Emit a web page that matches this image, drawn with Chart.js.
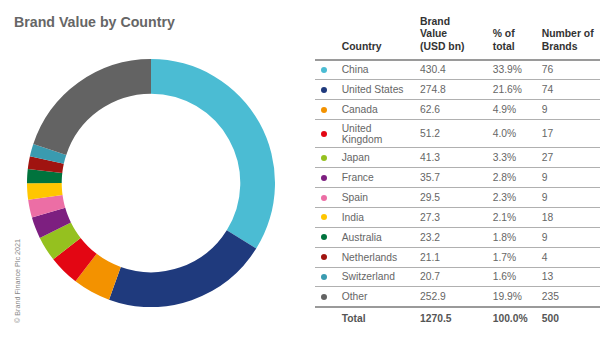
<!DOCTYPE html>
<html><head><meta charset="utf-8">
<script src="https://cdn.jsdelivr.net/npm/chart.js@4.4.0/dist/chart.umd.min.js"></script>
<style>
body{margin:0;width:600px;height:339px;background:#fff;overflow:hidden;font-family:"Liberation Sans",Arial,sans-serif;position:relative}
#title{position:absolute;left:14px;top:15px;font-size:14.2px;line-height:14px;font-weight:bold;color:#666;white-space:nowrap}
#copy{position:absolute;left:14px;top:323px;transform-origin:0 0;transform:rotate(-90deg);font-size:7.2px;line-height:8px;color:#888;white-space:nowrap}
#wrap{position:absolute;left:27px;top:59px;width:248px;height:248px}
.cell{position:absolute;font-size:10.3px;color:#666;display:flex;align-items:center;line-height:11px;white-space:nowrap}
.hdr{position:absolute;bottom:286px;font-size:10.4px;font-weight:bold;color:#333;line-height:12.5px;white-space:nowrap}
.line{position:absolute;left:315px;width:285px}
.dot{position:absolute;width:6px;height:6px;border-radius:50%}
.tot{font-weight:bold;color:#555}
</style>
</head><body>
<div id="title">Brand Value by Country</div>
<div id="copy">© Brand Finance Plc 2021</div>
<div id="wrap"><canvas id="c" width="248" height="248"></canvas></div>
<div id="tbl"></div>
<script>
const countries = ["China","United States","Canada","United\nKingdom","Japan","France","Spain","India","Australia","Netherlands","Switzerland","Other"];
const brandValues = [430.4,274.8,62.6,51.2,41.3,35.7,29.5,27.3,23.2,21.1,20.7,252.9];
const shareLabels = ["33.9%","21.6%","4.9%","4.0%","3.3%","2.8%","2.3%","2.1%","1.8%","1.7%","1.6%","19.9%"];
const brandCounts = [76,74,9,17,27,9,9,18,9,4,13,235];
const colors = ["#4BBCD3","#1F3A7D","#F39200","#E30613","#95C11F","#7D1F80","#EC6EA5","#FFC600","#00733D","#A01410","#3A9BB0","#636363"];
const headers = ["Country","Brand\nValue\n(USD bn)","% of\ntotal","Number of\nBrands"];
const totalRow = ["Total","1270.5","100.0%","500"];

const colX = [341.7, 420, 492.7, 541.7];
const tbl = document.getElementById('tbl');
function add(cls, x, y, h, text){
  const d = document.createElement('div');
  d.className = cls;
  d.style.left = x + 'px';
  if (y !== null) d.style.top = y + 'px';
  if (h !== null) d.style.height = h + 'px';
  d.innerHTML = String(text).split('\n').join('<br>');
  tbl.appendChild(d);
  return d;
}
function line(y, thick){
  const d = document.createElement('div');
  d.className = 'line';
  d.style.top = (y - (thick ? 1 : 0.5)) + 'px';
  d.style.height = (thick ? 2 : 1) + 'px';
  d.style.background = thick ? '#9a9a9a' : '#b0b0b0';
  tbl.appendChild(d);
}
headers.forEach((h,i)=>add('hdr', colX[i], null, null, h));
let y = 60;
line(y, true);
countries.forEach((c,i)=>{
  const h = c.includes('\n') ? 28.4 : 19.85;
  add('cell', colX[0], y, h, c);
  add('cell', colX[1], y, h, brandValues[i].toFixed(1));
  add('cell', colX[2], y, h, shareLabels[i]);
  add('cell', colX[3], y, h, brandCounts[i]);
  const dot = document.createElement('div');
  dot.className = 'dot';
  dot.style.left = '321px';
  dot.style.top = (y + h/2 - 3) + 'px';
  dot.style.background = colors[i];
  tbl.appendChild(dot);
  y += h;
  line(y, i === countries.length - 1);
});
totalRow.forEach((t,i)=>add('cell tot', colX[i], y, 23.5, t));

new Chart(document.getElementById('c'), {
  type: 'doughnut',
  data: { labels: countries, datasets: [{ data: brandValues, backgroundColor: colors, borderWidth: 0 }] },
  options: {
    responsive: false, animation: false, cutout: '72%', events: [],
    layout: { padding: 0 },
    plugins: { legend: { display: false }, tooltip: { enabled: false } }
  }
});
</script>
</body></html>
